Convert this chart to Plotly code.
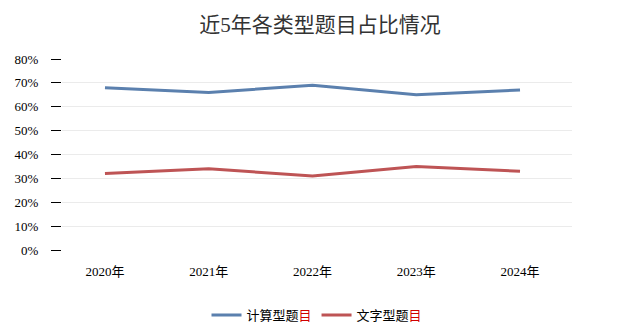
import plotly.graph_objects as go

years = ["2020年", "2021年", "2022年", "2023年", "2024年"]
calc = [68, 66, 69, 65, 67]
text_q = [32, 34, 31, 35, 33]
y_ticks = [0, 10, 20, 30, 40, 50, 60, 70, 80]
y_labels = [f"{v}%" for v in y_ticks]

font_family = "Liberation Serif, Noto Sans CJK SC, serif"

fig = go.Figure()
fig.add_trace(go.Scatter(x=years, y=calc, mode="lines",
                         name="计算型题<span style='color:#d00000'>目</span>",
                         line=dict(color="#5B80AE", width=3)))
fig.add_trace(go.Scatter(x=years, y=text_q, mode="lines",
                         name="文字型题<span style='color:#d00000'>目</span>",
                         line=dict(color="#BE5455", width=3)))

fig.update_layout(
    width=640, height=330,
    paper_bgcolor="white", plot_bgcolor="white",
    margin=dict(l=62, r=68, t=59, b=80, autoexpand=False),
    title=dict(text="近5年各类型题目占比情况", x=0.5, xanchor="center",
               y=0.925, yanchor="middle",
               font=dict(family=font_family, size=21, color="#333333")),
    font=dict(family=font_family, color="#000000"),
    showlegend=True,
    legend=dict(orientation="h", x=0.5, xanchor="center",
                yref="container", y=0.045, yanchor="middle",
                font=dict(size=13, color="#000000"), itemwidth=30),
    xaxis=dict(showgrid=False, showline=False, ticks="", zeroline=False,
               range=[-0.414, 4.501], ticklabelstandoff=12,
               tickfont=dict(size=13)),
    yaxis=dict(range=[0, 80], tickvals=y_ticks, ticktext=y_labels,
               showgrid=True, gridcolor="#EBEBEB", gridwidth=1,
               zeroline=False, showline=False,
               ticks="outside", ticklen=10, tickcolor="#000000", tickwidth=1,
               ticklabelstandoff=10,
               tickfont=dict(size=13)),
)

fig.write_html("out.html")
